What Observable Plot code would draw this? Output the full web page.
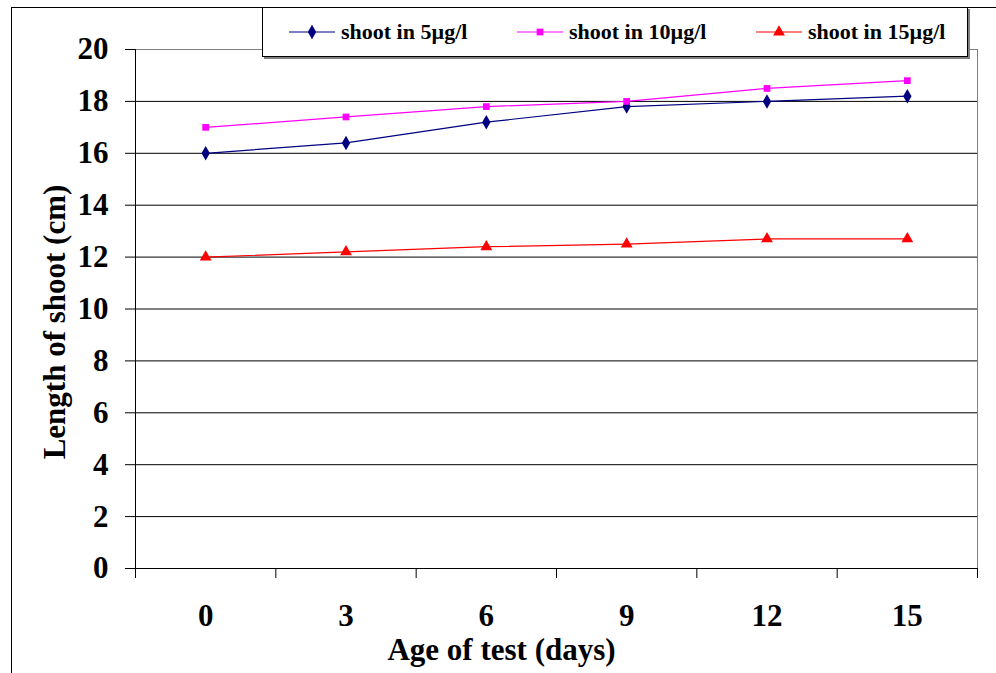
<!DOCTYPE html>
<html>
<head>
<meta charset="utf-8">
<script src="https://cdn.jsdelivr.net/npm/d3@7"></script>
<script src="https://cdn.jsdelivr.net/npm/@observablehq/plot@0.6"></script>
<style>
  html, body { margin: 0; padding: 0; background: #fff; }
  #wrap { position: relative; width: 996px; height: 673px; overflow: hidden; }
  #chart text { font-family: "Liberation Serif", "Times New Roman", serif !important; font-weight: bold; }
  #outer { position: absolute; left: 11px; top: 7px; width: 1000px; height: 700px; border: 1px solid #000; box-sizing: border-box; pointer-events: none; }
  #legend { position: absolute; left: 262px; top: 7px; width: 706px; height: 50px; background: #fff;
            border: 1px solid #000; box-sizing: border-box; box-shadow: 2px 2px 0 #808080;
            font-family: "Liberation Serif", "Times New Roman", serif; font-weight: bold; font-size: 22px; }
  .item { position: absolute; top: 0; height: 48px; display: flex; align-items: center; }
  .item svg { margin-right: 6px; }
</style>
</head>
<body>
<div id="wrap">
  <div id="chart"></div>
  <div id="outer"></div>
  <div id="legend"></div>
</div>
<script>
// Age of test (days) and shoot length (cm) for each concentration
const days = [0, 3, 6, 9, 12, 15];
const shoot5 = [16, 16.4, 17.2, 17.8, 18, 18.2];
const shoot10 = [17, 17.4, 17.8, 18, 18.5, 18.8];
const shoot15 = [12, 12.2, 12.4, 12.5, 12.7, 12.7];
const seriesNames = ["shoot in 5µg/l", "shoot in 10µg/l", "shoot in 15µg/l"];
const yTicks = [0, 2, 4, 6, 8, 10, 12, 14, 16, 18, 20];
const xTitle = "Age of test (days)";
const yTitle = "Length of shoot (cm)";

const colors = ["#000080", "#ff00ff", "#ff0000"];
const symbols = ["diamond", "square", "triangle"];
const radii = [4.4, 3.8, 4.4];
const serif = "Liberation Serif, Times New Roman, serif";

// Categories sit in the middle of equal slots; slot edges carry the tick marks
const half = 1.5;
const xDomain = [days[0] - half, days[days.length - 1] + half];
const edges = days.map(d => d - half).concat([days[days.length - 1] + half]);

const rows = [];
[shoot5, shoot10, shoot15].forEach((vals, s) => {
  vals.forEach((v, i) => rows.push({series: seriesNames[s], day: days[i], value: v, s}));
});

const seriesMarks = seriesNames.flatMap((name, s) => {
  const data = rows.filter(r => r.s === s);
  return [
    Plot.line(data, {x: "day", y: "value", stroke: colors[s], strokeWidth: 1.2}),
    Plot.dot(data, {x: "day", y: "value", fill: colors[s], stroke: "none", symbol: symbols[s], r: radii[s]})
  ];
});

const titleStyle = {fontSize: 31, fontFamily: serif, fontWeight: "bold", fill: "#000", textAnchor: "middle", lineAnchor: "middle"};

const chart = Plot.plot({
  width: 996,
  height: 673,
  marginLeft: 135,
  marginRight: 19,
  marginTop: 49,
  marginBottom: 105,
  x: {domain: xDomain},
  y: {domain: [0, 20]},
  style: {
    fontFamily: serif,
    fontWeight: "bold",
    fontSize: "31px",
    background: "transparent",
    color: "#000",
    overflow: "visible"
  },
  marks: [
    Plot.gridY(yTicks, {stroke: "#000", strokeOpacity: 1, strokeWidth: 1}),
    Plot.frame({stroke: "#808080"}),
    Plot.ruleX([xDomain[0]], {stroke: "#000"}),
    Plot.ruleY([0], {stroke: "#000"}),
    Plot.axisY({ticks: yTicks, tickSize: 10, tickPadding: 17, label: null, fontSize: 31, fontFamily: serif, fontWeight: "bold"}),
    Plot.axisX({ticks: edges, tickSize: 10, tickFormat: () => "", label: null}),
    Plot.axisX({ticks: days, tickSize: 0, tickPadding: 35, label: null, fontSize: 31, fontFamily: serif, fontWeight: "bold"}),
    // Axis titles
    Plot.text([yTitle], {frameAnchor: "left", rotate: -90, dx: -80, dy: 13, ...titleStyle}),
    Plot.text([xTitle], {frameAnchor: "bottom", dx: -55, dy: 82, ...titleStyle}),
    ...seriesMarks
  ]
});
document.getElementById("chart").appendChild(chart);

// Legend: line sample with its marker, then the series name
const legend = document.getElementById("legend");
const itemLeft = [26, 254, 493];
const symPaths = {
  diamond: d3.symbol(d3.symbolDiamond, Math.PI * radii[0] * radii[0])(),
  square: d3.symbol(d3.symbolSquare, Math.PI * radii[1] * radii[1])(),
  triangle: d3.symbol(d3.symbolTriangle, Math.PI * radii[2] * radii[2])()
};
seriesNames.forEach((name, s) => {
  const item = document.createElement("div");
  item.className = "item";
  item.style.left = itemLeft[s] + "px";
  item.innerHTML =
    `<svg width="46" height="14" viewBox="0 0 46 14">` +
    `<line x1="0" x2="46" y1="7" y2="7" stroke="${colors[s]}" stroke-width="1.2"/>` +
    `<path transform="translate(23,7)" d="${symPaths[symbols[s]]}" fill="${colors[s]}"/>` +
    `</svg><span>${name}</span>`;
  legend.appendChild(item);
});
</script>
</body>
</html>
